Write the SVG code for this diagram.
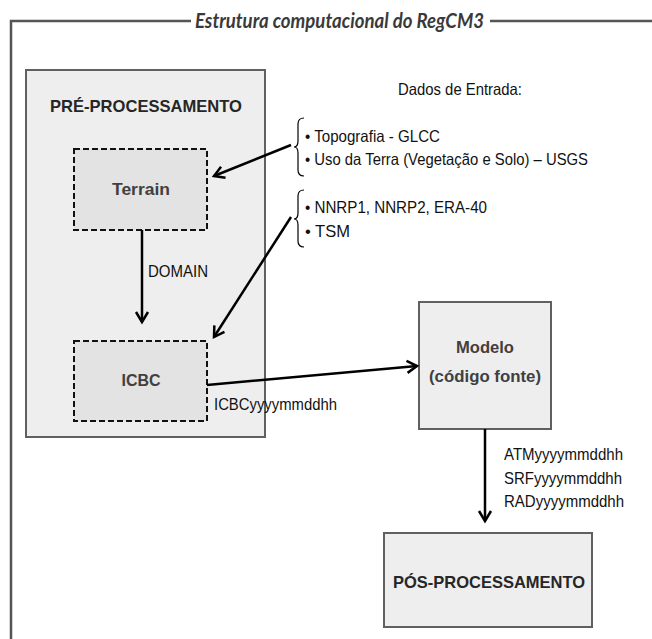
<svg xmlns="http://www.w3.org/2000/svg" width="652" height="639" viewBox="0 0 652 639">
<style>
  .frame{fill:none;stroke:#555;stroke-width:2.5}
  .box{fill:#eeeeee;stroke:#606060;stroke-width:2}
  .dbox{fill:#e3e3e3;stroke:#111;stroke-width:2;stroke-dasharray:6 3}
  .hd{font-family:"Liberation Sans",Arial,sans-serif;font-weight:bold;font-size:17px;fill:#262626;text-anchor:middle}
  .nd{font-family:"Liberation Sans",Arial,sans-serif;font-weight:bold;font-size:17px;fill:#404040;text-anchor:middle}
  .lb{font-family:"Liberation Sans",Arial,sans-serif;font-size:16.5px;fill:#111}
  .title{font-family:Lato,"Liberation Sans",sans-serif;font-style:italic;font-weight:bold;font-size:20px;fill:#3a3a3a}
  .arr{fill:none;stroke:#000;stroke-width:2.5}
  .brace{fill:none;stroke:#000;stroke-width:1.2}
</style>
<defs>
  <marker id="ah" markerUnits="userSpaceOnUse" markerWidth="16" markerHeight="16" refX="0" refY="0" viewBox="-12 -8 14 16" orient="auto">
    <path d="M-10,-6 L0,0 L-10,6" fill="none" stroke="#000" stroke-width="2.5"/>
  </marker>
</defs>

<g id="frame">
  <path class="frame" d="M191,21 L11,21 L11,639"/>
  <path class="frame" d="M490,21 L652,21"/>
  <text class="title" x="195" y="28" textLength="289" lengthAdjust="spacingAndGlyphs">Estrutura computacional do RegCM3</text>
</g>

<g id="pre">
  <rect class="box" x="26" y="70" width="239" height="367"/>
  <text class="hd" x="146" y="112" textLength="192" lengthAdjust="spacingAndGlyphs">PRÉ-PROCESSAMENTO</text>
</g>

<g id="terrain">
  <rect class="dbox" x="74" y="149" width="133" height="81"/>
  <text class="nd" x="141" y="195" textLength="58" lengthAdjust="spacingAndGlyphs">Terrain</text>
</g>

<g id="icbc">
  <rect class="dbox" x="74" y="341" width="133" height="80"/>
  <text class="nd" x="141" y="386" textLength="39" lengthAdjust="spacingAndGlyphs">ICBC</text>
</g>

<g id="modelo">
  <rect class="box" x="419" y="302" width="132" height="127"/>
  <text class="nd" x="485" y="353" textLength="58" lengthAdjust="spacingAndGlyphs">Modelo</text>
  <text class="nd" x="485" y="382" textLength="112" lengthAdjust="spacingAndGlyphs">(código fonte)</text>
</g>

<g id="pos">
  <rect class="box" x="384" y="533" width="208" height="94"/>
  <text class="hd" x="489" y="588" textLength="192" lengthAdjust="spacingAndGlyphs">PÓS-PROCESSAMENTO</text>
</g>

<g id="dados">
  <text class="lb" x="398" y="95" textLength="124" lengthAdjust="spacingAndGlyphs">Dados de Entrada:</text>
  <path class="brace" d="M304,118 Q298,118 298,124 L298,141 Q298,147 294,147 Q298,147 298,153 L298,170 Q298,176 304,176"/>
  <text class="lb" x="305" y="142" textLength="135" lengthAdjust="spacingAndGlyphs">• Topografia - GLCC</text>
  <text class="lb" x="305" y="165" textLength="283" lengthAdjust="spacingAndGlyphs">• Uso da Terra (Vegetação e Solo) – USGS</text>
  <path class="brace" d="M304,190 Q298,190 298,196 L298,213 Q298,219 294,219 Q298,219 298,225 L298,241 Q298,247 304,247"/>
  <text class="lb" x="305" y="213" textLength="182" lengthAdjust="spacingAndGlyphs">• NNRP1, NNRP2, ERA-40</text>
  <text class="lb" x="305" y="237" textLength="45" lengthAdjust="spacingAndGlyphs">• TSM</text>
</g>

<g id="connectors">
  <line class="arr" x1="291" y1="145" x2="214" y2="176" marker-end="url(#ah)"/>
  <line class="arr" x1="291" y1="217" x2="214" y2="337" marker-end="url(#ah)"/>
  <line class="arr" x1="142" y1="230" x2="142" y2="322" marker-end="url(#ah)"/>
  <text class="lb" x="148" y="277" textLength="60" lengthAdjust="spacingAndGlyphs">DOMAIN</text>
  <line class="arr" x1="207" y1="385" x2="417" y2="366" marker-end="url(#ah)"/>
  <text class="lb" x="214" y="410" textLength="123" lengthAdjust="spacingAndGlyphs">ICBCyyyymmddhh</text>
  <line class="arr" x1="485" y1="429" x2="485" y2="521" marker-end="url(#ah)"/>
  <text class="lb" x="504" y="460" textLength="119" lengthAdjust="spacingAndGlyphs">ATMyyyymmddhh</text>
  <text class="lb" x="504" y="484" textLength="118" lengthAdjust="spacingAndGlyphs">SRFyyyymmddhh</text>
  <text class="lb" x="504" y="507" textLength="120" lengthAdjust="spacingAndGlyphs">RADyyyymmddhh</text>
</g>
</svg>
